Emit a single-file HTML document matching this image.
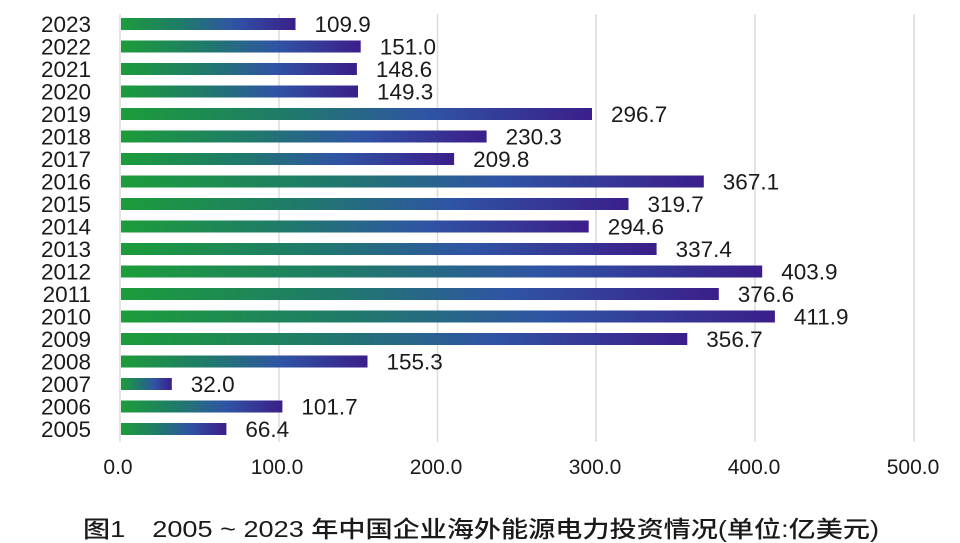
<!DOCTYPE html>
<html><head><meta charset="utf-8"><style>
html,body{margin:0;padding:0;background:#fff;}
svg{display:block;}
text{font-family:"Liberation Sans","Noto Sans CJK SC",sans-serif;fill:#1a1a1a;}
</style></head><body>
<svg width="960" height="543" viewBox="0 0 960 543" xmlns="http://www.w3.org/2000/svg">
<defs>
<linearGradient id="g" x1="0" y1="0" x2="1" y2="0">
<stop offset="0" stop-color="#1c9c3a"/>
<stop offset="0.35" stop-color="#1f7a6a"/>
<stop offset="0.65" stop-color="#2f54a4"/>
<stop offset="1" stop-color="#3b1e8a"/>
</linearGradient>
</defs>
<g stroke="#dcdcdc" stroke-width="1.5">
<line x1="120" y1="14" x2="120" y2="442"/>
<line x1="279" y1="14" x2="279" y2="442"/>
<line x1="437.5" y1="14" x2="437.5" y2="442"/>
<line x1="596" y1="14" x2="596" y2="442"/>
<line x1="755" y1="14" x2="755" y2="442"/>
<line x1="914" y1="14" x2="914" y2="442"/>
</g>
<g fill="url(#g)">
<rect x="121" y="18" width="174.5" height="12"/>
<rect x="121" y="40.5" width="239.7" height="12"/>
<rect x="121" y="63" width="235.9" height="12"/>
<rect x="121" y="85.5" width="237.0" height="12"/>
<rect x="121" y="108" width="471.0" height="12"/>
<rect x="121" y="130.5" width="365.6" height="12"/>
<rect x="121" y="153" width="333.1" height="12"/>
<rect x="121" y="175.5" width="582.8" height="12"/>
<rect x="121" y="198" width="507.5" height="12"/>
<rect x="121" y="220.5" width="467.7" height="12"/>
<rect x="121" y="243" width="535.6" height="12"/>
<rect x="121" y="265.5" width="641.2" height="12"/>
<rect x="121" y="288" width="597.8" height="12"/>
<rect x="121" y="310.5" width="653.9" height="12"/>
<rect x="121" y="333" width="566.3" height="12"/>
<rect x="121" y="355.5" width="246.5" height="12"/>
<rect x="121" y="378" width="50.8" height="12"/>
<rect x="121" y="400.5" width="161.4" height="12"/>
<rect x="121" y="423" width="105.4" height="12"/>
</g>
<g font-size="22.5" text-anchor="end">
<text x="91" y="32">2023</text>
<text x="91" y="54.5">2022</text>
<text x="91" y="77">2021</text>
<text x="91" y="99.5">2020</text>
<text x="91" y="122">2019</text>
<text x="91" y="144.5">2018</text>
<text x="91" y="167">2017</text>
<text x="91" y="189.5">2016</text>
<text x="91" y="212">2015</text>
<text x="91" y="234.5">2014</text>
<text x="91" y="257">2013</text>
<text x="91" y="279.5">2012</text>
<text x="91" y="302">2011</text>
<text x="91" y="324.5">2010</text>
<text x="91" y="347">2009</text>
<text x="91" y="369.5">2008</text>
<text x="91" y="392">2007</text>
<text x="91" y="414.5">2006</text>
<text x="91" y="437">2005</text>
</g>
<g font-size="22.5" transform="translate(5,0)">
<text x="309.5" y="32">109.9</text>
<text x="374.7" y="54.5">151.0</text>
<text x="370.9" y="77">148.6</text>
<text x="372.0" y="99.5">149.3</text>
<text x="606.0" y="122">296.7</text>
<text x="500.6" y="144.5">230.3</text>
<text x="468.1" y="167">209.8</text>
<text x="717.8" y="189.5">367.1</text>
<text x="642.5" y="212">319.7</text>
<text x="602.7" y="234.5">294.6</text>
<text x="670.6" y="257">337.4</text>
<text x="776.2" y="279.5">403.9</text>
<text x="732.8" y="302">376.6</text>
<text x="788.9" y="324.5">411.9</text>
<text x="701.3" y="347">356.7</text>
<text x="381.5" y="369.5">155.3</text>
<text x="185.8" y="392">32.0</text>
<text x="296.4" y="414.5">101.7</text>
<text x="240.4" y="437">66.4</text>
</g>
<g font-size="21" text-anchor="middle">
<text x="118" y="474">0.0</text>
<text x="277" y="474">100.0</text>
<text x="436" y="474">200.0</text>
<text x="595" y="474">300.0</text>
<text x="754" y="474">400.0</text>
<text x="913" y="474">500.0</text>
</g>
<text x="83" y="537" font-size="23" textLength="796" lengthAdjust="spacingAndGlyphs" style="font-weight:500">图1　2005 ~ 2023 年中国企业海外能源电力投资情况(单位:亿美元)</text>
</svg>
</body></html>
